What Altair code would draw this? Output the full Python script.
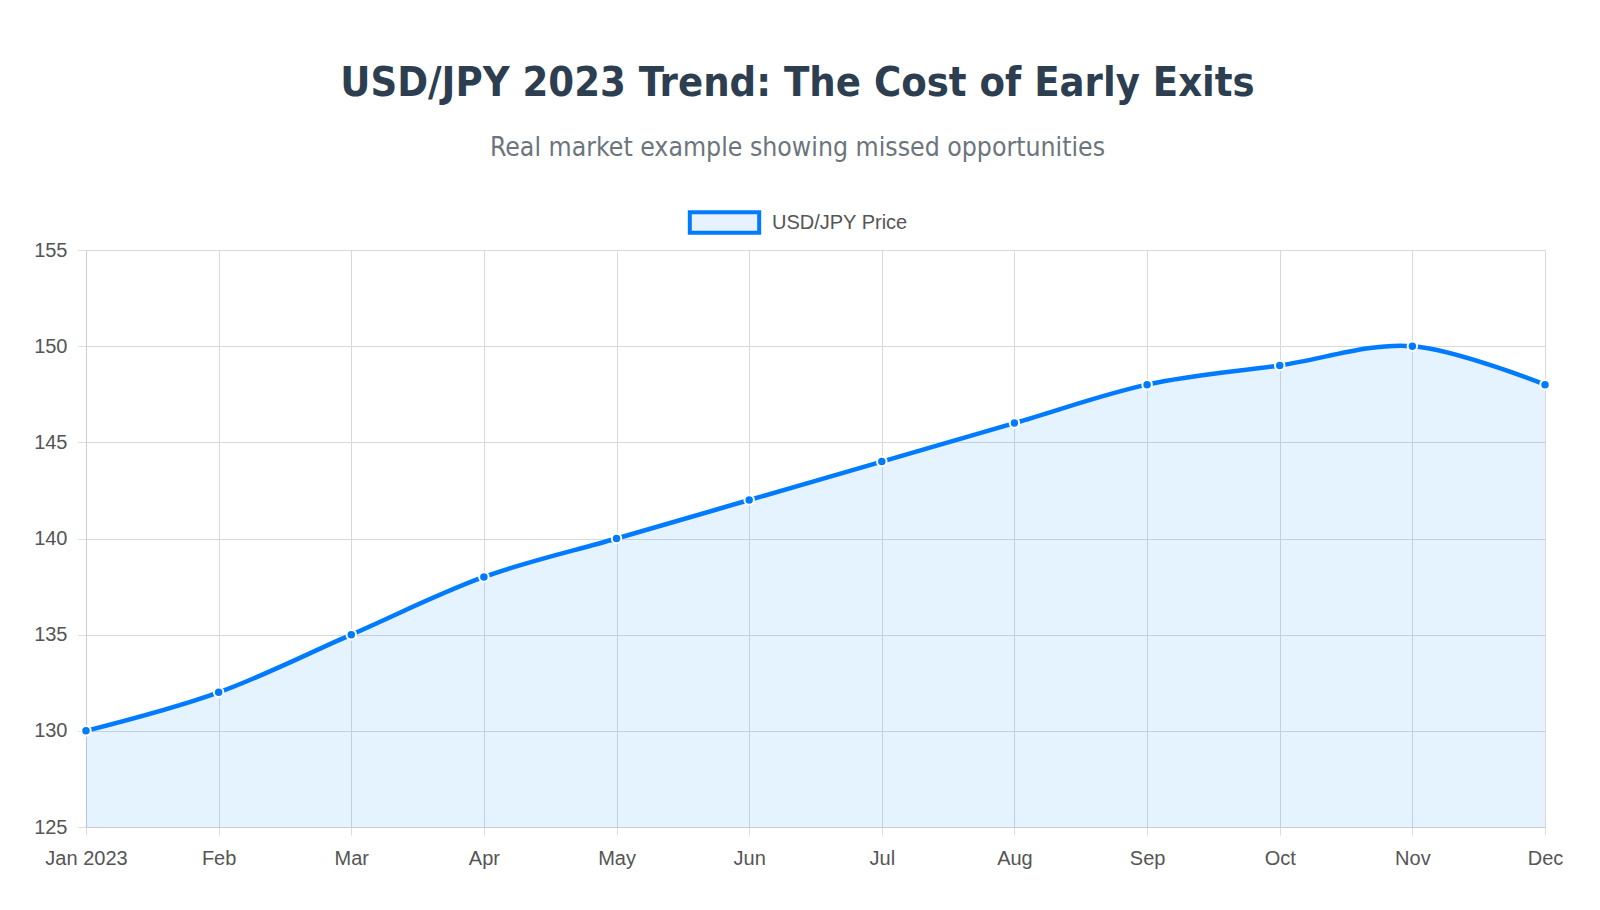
import altair as alt
import pandas as pd

months = ["Jan 2023", "Feb", "Mar", "Apr", "May", "Jun",
          "Jul", "Aug", "Sep", "Oct", "Nov", "Dec"]
price = [130, 132, 135, 138, 140, 142, 144, 146, 148, 149, 150, 148]
series = ["USD/JPY Price"] * len(months)

df = pd.DataFrame({"month": months, "price": price, "series": series})

blue = "#007bff"
fill = "#e6f2ff"
label_font = "Liberation Sans"

x = alt.X("month:N", sort=months, title=None,
          scale=alt.Scale(type="point", padding=0),
          axis=alt.Axis(labelAngle=0, labelFontSize=20, labelColor="#555",
                        labelFont=label_font, labelPadding=13,
                        tickColor="#ddd", tickSize=8, domainColor="#ccc",
                        gridColor="#d9d9d9", grid=True))
y = alt.Y("price:Q", title=None,
          scale=alt.Scale(domain=[125, 155], zero=False, nice=False),
          axis=alt.Axis(values=[125, 130, 135, 140, 145, 150, 155],
                        labelFontSize=20, labelColor="#555",
                        labelFont=label_font, labelPadding=11,
                        tickColor="#ddd", tickSize=8, domainColor="#ccc",
                        gridColor="#d9d9d9"))

base = alt.Chart(df)

# translucent fill so the grid shows through, like the original
area = base.mark_area(interpolate="cardinal", color=blue, opacity=0.1).encode(
    x=x, y=y, y2=alt.datum(125)
)

line = base.mark_line(interpolate="cardinal", strokeWidth=4.5).encode(
    x=x, y=y,
    color=alt.Color("series:N", title=None,
                    scale=alt.Scale(range=[blue]),
                    legend=alt.Legend(orient="none", legendX=616, legendY=-50,
                                      symbolType="M-1.7,-0.5H1.7V0.5H-1.7Z",
                                      symbolSize=1665, symbolStrokeWidth=4,
                                      symbolFillColor=fill, symbolStrokeColor=blue,
                                      labelFontSize=20, labelColor="#555",
                                      labelFont=label_font, labelOffset=25))
)

points = base.mark_point(filled=True, size=90, color=blue, stroke="white",
                         strokeWidth=2, opacity=1).encode(x=x, y=y)

chart = alt.layer(area, line, points).properties(
    width=1459,
    height=577,
    title=alt.Title(
        "USD/JPY 2023 Trend: The Cost of Early Exits",
        subtitle="Real market example showing missed opportunities",
        anchor="middle",
        dx=-18,
        font="DejaVu Sans Condensed, DejaVu Sans",
        fontSize=41.3,
        fontWeight="bold",
        color="#2c3e50",
        subtitleFont="DejaVu Sans Condensed, DejaVu Sans",
        subtitleFontSize=26.4,
        subtitleColor="#6c757d",
        subtitlePadding=30,
        offset=39,
    ),
).configure_view(stroke=None).configure(
    background="white",
    padding={"left": 25, "top": 55, "right": 20, "bottom": 5},
)

chart.save("out.html", embed_options={"renderer": "svg", "actions": False})
